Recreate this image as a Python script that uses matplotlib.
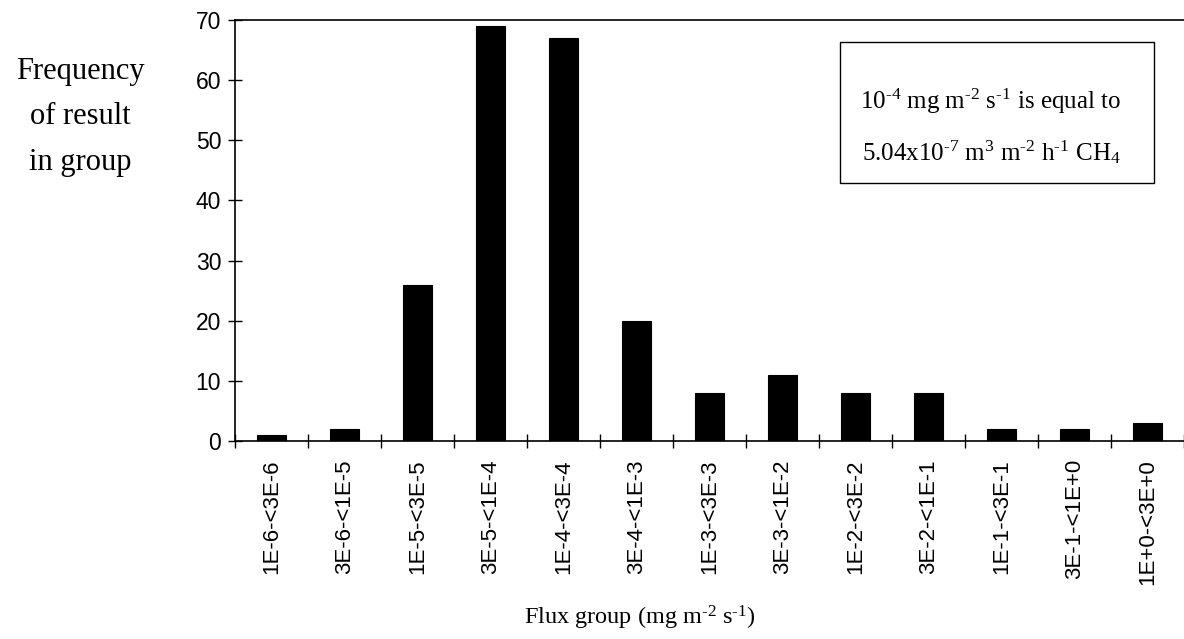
import matplotlib

matplotlib.use("Agg")
import matplotlib.pyplot as plt
import numpy as np
from matplotlib.patches import Rectangle

# flux classes (mg m-2 s-1) and number of results falling in each
groups = [
    "1E-6-<3E-6", "3E-6-<1E-5", "1E-5-<3E-5", "3E-5-<1E-4", "1E-4-<3E-4",
    "3E-4-<1E-3", "1E-3-<3E-3", "3E-3-<1E-2", "1E-2-<3E-2", "3E-2-<1E-1",
    "1E-1-<3E-1", "3E-1-<1E+0", "1E+0-<3E+0",
]
counts = [1, 2, 26, 69, 67, 20, 8, 11, 8, 8, 2, 2, 3]
yticks = [0, 10, 20, 30, 40, 50, 60, 70]

plt.rcParams["font.family"] = ["Liberation Sans", "DejaVu Sans"]
plt.rcParams["mathtext.default"] = "regular"
SERIF = ["Liberation Serif", "DejaVu Serif"]
HY = "\u2010"  # short hyphen for exponents (mathtext turns "-" into a long minus)

fig = plt.figure(figsize=(11.84, 6.39), dpi=100)
ax = fig.add_axes([235 / 1184, 1 - 441 / 639, 1 - 235 / 1184, (441 - 20) / 639])

x = np.arange(len(groups))
ax.bar(x, counts, width=0.41, color="black", edgecolor="black", linewidth=0.8)

ax.set_xlim(-0.5, len(groups) - 0.5)
ax.set_ylim(0, 70)
ax.set_yticks(yticks)
ax.tick_params(axis="y", direction="inout", length=10, width=1, pad=5, labelsize=16.5)

# labels centred under bars, tick marks on the class boundaries
ax.set_xticks(x)
ax.set_xticklabels(groups, rotation=90, fontsize=16)
ax.tick_params(axis="x", which="major", length=0, pad=13)
ax.set_xticks(np.arange(len(groups) + 1) - 0.5, minor=True)
ax.tick_params(axis="x", which="minor", direction="inout", length=10, width=1)

ax.spines["right"].set_visible(False)
for side in ("top", "left", "bottom"):
    ax.spines[side].set_linewidth(1.2)

fig.text(80 / 1184, 1 - 117 / 639, "Frequency\nof result\nin group",
         family=SERIF, fontsize=22, ha="center", va="center", linespacing=1.75)
fig.text(640 / 1184, 1 - 618 / 639, f"Flux group (mg m$^{{{HY}2}}$ s$^{{{HY}1}}$)",
         family=SERIF, fontsize=17.5, ha="center", va="center")

# conversion note in a framed box
fig.patches.append(Rectangle((840 / 1184, 1 - 183 / 639), 314 / 1184, 141 / 639,
                             transform=fig.transFigure, fill=False,
                             edgecolor="black", linewidth=1))
fig.text(991 / 1184, 1 - 101 / 639,
         f"10$^{{{HY}4}}$ mg m$^{{{HY}2}}$ s$^{{{HY}1}}$ is equal to",
         family=SERIF, fontsize=18, ha="center", va="center")
fig.text(991 / 1184, 1 - 152 / 639,
         f"5.04x10$^{{{HY}7}}$ m$^{{3}}$ m$^{{{HY}2}}$ h$^{{{HY}1}}$ CH$_{{4}}$",
         family=SERIF, fontsize=18, ha="center", va="center")

fig.savefig("out.png", dpi=100)
